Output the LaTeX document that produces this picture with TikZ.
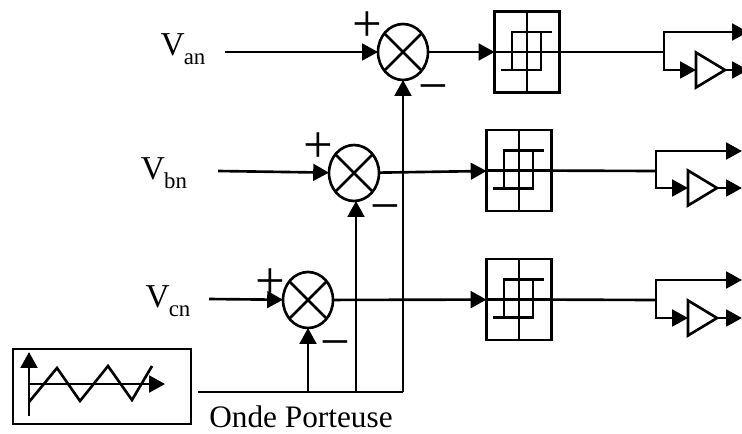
\documentclass[tikz,border=0pt]{standalone}
\usepackage{fontspec}
\setmainfont{Liberation Serif}
\usetikzlibrary{arrows.meta,shapes.geometric,calc}
\newcommand{\vsub}[1]{{\fontsize{19}{20}\selectfont V}\hspace{-0.5pt}\raisebox{-0.3em}{\fontsize{13}{14}\selectfont #1}}
\tikzset{
  wire/.style={line width=1.5pt},
  flow/.style={wire, -{Triangle[length=9pt,width=9.5pt]}},
  sumnode/.style={draw, line width=1.5pt, ellipse, minimum width=1cm, minimum height=1.12cm, inner sep=0pt, outer sep=0pt},
  hystbox/.style={draw, line width=1.5pt, minimum width=1.3cm, minimum height=1.62cm, inner sep=0pt, outer sep=0pt},
  bufnode/.style={draw, line width=1.5pt, isosceles triangle, isosceles triangle stretches, minimum width=0.7cm, minimum height=0.58cm, inner sep=0pt, outer sep=0pt, anchor=west},
  lbl/.style={font=\fontsize{17.8}{20}\selectfont, inner sep=0pt},
  sign/.style={font=\fontsize{30}{32}\selectfont, inner sep=0pt}
}
\begin{document}
\begin{tikzpicture}[x=0.02cm,y=-0.02cm]
\useasboundingbox (0,0) rectangle (742,433);

% comparators
\node[sumnode] (sumA) at (403,52) {};
\node[sumnode] (sumB) at (354,173) {};
\node[sumnode] (sumC) at (308,300) {};
\foreach \s in {sumA,sumB,sumC} {
  \draw[wire] (\s.45) -- (\s.225);
  \draw[wire] (\s.135) -- (\s.315);
}

% hysteresis blocks
\node[hystbox] (hystA) at (527,52) {};
\node[hystbox] (hystB) at (519,170.5) {};
\node[hystbox] (hystC) at (519,299.5) {};
\foreach \h in {hystA,hystB,hystC} {
  \draw[wire] (\h.north) -- (\h.south);
  \draw[wire] (\h.west) -- (\h.east);
  \begin{scope}[shift={(\h)}]
    \draw[wire] (25,-20) -- (-15,-20) -- (-15,18);
    \draw[wire] (-26,18) -- (14,18) -- (14,-20);
  \end{scope}
}

% inputs
\node[lbl] (labA) at (183,49) {\vsub{an}};
\node[lbl] (labB) at (164,173) {\vsub{bn}};
\node[lbl] (labC) at (168,301) {\vsub{cn}};
\coordinate (inA) at (225,52);
\coordinate (inB) at (218,171);
\coordinate (inC) at (209,299);
\draw[flow] (inA) -- (sumA);
\draw[flow] (inB) -- (sumB);
\draw[flow] (inC) -- (sumC);
\draw[flow] (sumA) -- (hystA);
\draw[flow] (sumB) -- (hystB);
\draw[flow] (sumC) -- (hystC);

% signs
\node[sign] (plusA) at (367,27) {+};
\node[sign] (plusB) at (318,148) {+};
\node[sign] (plusC) at (270,284) {+};
\node[sign] (minusA) at (433,94) {−};
\node[sign] (minusB) at (385,214) {−};
\node[sign] (minusC) at (335,350) {−};

% carrier
\node[draw, line width=1.5pt, minimum width=3.56cm, minimum height=1.5cm, inner sep=0pt, outer sep=0pt] (carrier) at (102,386.5) {};
\coordinate (axisO) at (29,416);
\coordinate (axisY) at (29,352);
\coordinate (axisL) at (29,384);
\coordinate (axisX) at (165,384);
\draw[flow] (axisO) -- (axisY);
\draw[flow] (axisL) -- (axisX);
\draw[wire] (29,402) -- (57,368) -- (80,401) -- (108,366) -- (132,400) -- (152,366);

\coordinate (busS) at (198,392);
\coordinate (busC) at (sumC|-busS);
\coordinate (busB) at (356,392);
\coordinate (busA) at (sumA|-busS);
\draw[wire] (busS) -- (busA);
\draw[flow] (busC) -- (sumC);
\draw[flow] (busB) -- (356,201);
\draw[flow] (busA) -- (sumA);
\node[lbl] (onde) at (301,417) {Onde Porteuse};

% outputs
\coordinate (forkA) at (664,52);
\coordinate (forkB) at (656,171);
\coordinate (forkC) at (656,300);
\node[bufnode] (bufA) at (696,70) {};
\node[bufnode] (bufB) at (688,188) {};
\node[bufnode] (bufC) at (688,318) {};
\coordinate (topA) at (748,32);
\coordinate (topB) at (742,151);
\coordinate (topC) at (742,280);
\coordinate (endA) at (748,70);
\coordinate (endB) at (742,188);
\coordinate (endC) at (742,318);
\foreach \n in {A,B,C} {
  \draw[wire] (hyst\n) -- (fork\n);
  \draw[flow] (fork\n) |- (top\n);
  \draw[flow] (fork\n) |- (buf\n.west);
  \draw[flow] (buf\n.apex) -- (end\n);
}
\end{tikzpicture}
\end{document}
